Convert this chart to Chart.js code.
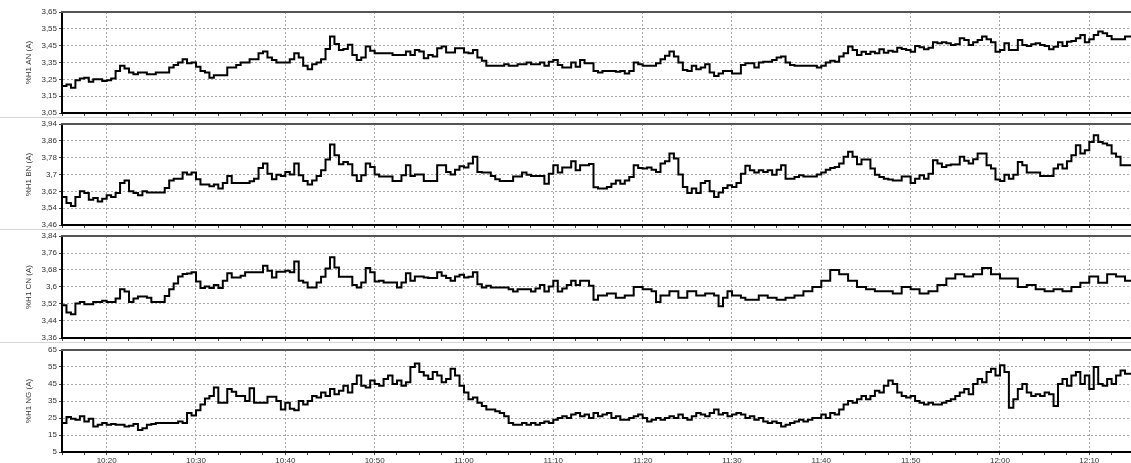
<!DOCTYPE html>
<html><head><meta charset="utf-8">
<script src="https://cdn.jsdelivr.net/npm/chart.js@4.4.0/dist/chart.umd.min.js"></script>
<style>
html,body{margin:0;padding:0;background:#fff;width:1131px;height:463px;overflow:hidden;position:relative}
.p{position:absolute;left:0;width:1131px}
canvas{display:block}
</style></head><body>
<div class="p" id="w0"><canvas id="c0"></canvas></div>
<div class="p" id="w1"><canvas id="c1"></canvas></div>
<div class="p" id="w2"><canvas id="c2"></canvas></div>
<div class="p" id="w3"><canvas id="c3"></canvas></div>
<script>
// time axis: minutes after 10:15, samples every 30 s
const startClock = 615;      // 10:15 in minutes
const sampleStep = 0.5;      // minutes
const xEnd = 119.67;
const xTickStep = 2.5;
const xLabelEvery = 10;
const xLabelOffset = 5;      // 10:20 is minute 5

const titles = ["%H1 AN (A)", "%H1 BN (A)", "%H1 CN (A)", "%H1 NG (A)"];
const ticksAN = [3.05,3.15,3.25,3.35,3.45,3.55,3.65];
const ticksBN = [3.46,3.54,3.62,3.7,3.78,3.86,3.94];
const ticksCN = [3.36,3.44,3.52,3.6,3.68,3.76,3.84];
const ticksNG = [5,15,25,35,45,55,65];

const seriesAN = [
3.21,3.22,3.20,3.245,3.255,3.26,3.235,3.25,3.25,3.24,
3.245,3.255,3.30,3.33,3.315,3.29,3.28,3.29,3.29,3.28,
3.28,3.29,3.29,3.29,3.32,3.335,3.35,3.37,3.345,3.35,
3.325,3.30,3.29,3.26,3.275,3.275,3.275,3.32,3.32,3.335,
3.35,3.35,3.37,3.37,3.405,3.415,3.38,3.365,3.35,3.35,
3.35,3.37,3.405,3.38,3.33,3.31,3.34,3.35,3.37,3.43,
3.505,3.46,3.425,3.43,3.455,3.395,3.365,3.38,3.445,3.42,
3.405,3.405,3.405,3.405,3.395,3.395,3.395,3.415,3.395,3.425,
3.415,3.375,3.395,3.385,3.435,3.445,3.41,3.41,3.435,3.435,
3.41,3.405,3.425,3.38,3.36,3.33,3.33,3.33,3.33,3.34,
3.33,3.33,3.34,3.34,3.35,3.34,3.34,3.35,3.33,3.355,
3.365,3.335,3.32,3.32,3.35,3.325,3.365,3.345,3.345,3.30,
3.29,3.30,3.30,3.30,3.295,3.30,3.285,3.30,3.35,3.34,
3.33,3.33,3.33,3.345,3.37,3.39,3.415,3.385,3.35,3.305,
3.30,3.33,3.31,3.32,3.34,3.29,3.27,3.285,3.30,3.30,
3.285,3.285,3.335,3.345,3.345,3.32,3.35,3.355,3.355,3.365,
3.38,3.385,3.35,3.335,3.33,3.33,3.33,3.33,3.33,3.32,
3.33,3.35,3.36,3.355,3.385,3.405,3.445,3.424,3.395,3.414,
3.40,3.414,3.405,3.428,3.408,3.42,3.414,3.438,3.43,3.424,
3.414,3.448,3.44,3.428,3.438,3.47,3.464,3.47,3.464,3.454,
3.458,3.494,3.484,3.454,3.47,3.484,3.504,3.488,3.47,3.414,
3.424,3.464,3.424,3.424,3.484,3.454,3.448,3.458,3.464,3.454,
3.448,3.428,3.444,3.47,3.448,3.474,3.478,3.494,3.514,3.47,
3.488,3.514,3.534,3.524,3.508,3.488,3.488,3.488,3.504];

const seriesBN = [
3.593,3.564,3.55,3.593,3.62,3.612,3.58,3.588,3.572,3.585,
3.601,3.593,3.612,3.66,3.672,3.62,3.612,3.601,3.62,3.614,
3.614,3.614,3.614,3.636,3.672,3.68,3.68,3.709,3.70,3.709,
3.677,3.652,3.652,3.644,3.652,3.633,3.66,3.693,3.66,3.66,
3.66,3.66,3.668,3.68,3.731,3.752,3.704,3.677,3.699,3.693,
3.712,3.70,3.752,3.696,3.669,3.652,3.672,3.693,3.72,3.771,
3.842,3.792,3.749,3.76,3.749,3.696,3.669,3.696,3.752,3.736,
3.70,3.691,3.691,3.691,3.669,3.669,3.696,3.744,3.693,3.70,
3.70,3.669,3.669,3.669,3.744,3.744,3.712,3.70,3.723,3.739,
3.733,3.752,3.784,3.712,3.709,3.709,3.693,3.677,3.669,3.669,
3.669,3.691,3.691,3.709,3.699,3.693,3.693,3.693,3.656,3.704,
3.744,3.709,3.733,3.733,3.763,3.72,3.744,3.744,3.75,3.64,
3.633,3.633,3.641,3.656,3.672,3.656,3.672,3.688,3.744,3.731,
3.728,3.733,3.723,3.712,3.752,3.763,3.80,3.776,3.70,3.641,
3.612,3.633,3.612,3.66,3.669,3.62,3.593,3.614,3.636,3.649,
3.641,3.66,3.704,3.741,3.72,3.709,3.72,3.712,3.72,3.699,
3.723,3.744,3.68,3.68,3.688,3.696,3.691,3.691,3.691,3.70,
3.709,3.723,3.731,3.736,3.752,3.784,3.808,3.784,3.749,3.771,
3.771,3.728,3.699,3.688,3.68,3.676,3.672,3.672,3.691,3.691,
3.66,3.68,3.696,3.68,3.704,3.768,3.752,3.736,3.744,3.747,
3.747,3.784,3.765,3.752,3.772,3.80,3.80,3.744,3.728,3.676,
3.669,3.699,3.68,3.699,3.76,3.744,3.709,3.709,3.709,3.693,
3.693,3.693,3.728,3.747,3.728,3.763,3.792,3.839,3.80,3.815,
3.855,3.887,3.855,3.847,3.839,3.80,3.784,3.744,3.744];

const seriesCN = [
3.514,3.48,3.472,3.522,3.53,3.519,3.519,3.53,3.53,3.535,
3.53,3.53,3.546,3.59,3.579,3.53,3.546,3.555,3.555,3.55,
3.53,3.53,3.53,3.558,3.59,3.617,3.65,3.661,3.664,3.669,
3.626,3.595,3.602,3.595,3.61,3.595,3.629,3.665,3.645,3.645,
3.653,3.669,3.669,3.669,3.669,3.70,3.676,3.645,3.672,3.672,
3.676,3.669,3.72,3.629,3.621,3.598,3.598,3.621,3.648,3.687,
3.74,3.692,3.648,3.648,3.648,3.61,3.598,3.621,3.689,3.669,
3.626,3.629,3.621,3.621,3.621,3.598,3.621,3.665,3.629,3.65,
3.65,3.645,3.642,3.642,3.669,3.653,3.642,3.629,3.65,3.658,
3.645,3.648,3.669,3.613,3.598,3.606,3.598,3.598,3.598,3.598,
3.59,3.579,3.59,3.59,3.59,3.579,3.593,3.61,3.579,3.602,
3.629,3.579,3.593,3.61,3.629,3.61,3.629,3.629,3.606,3.54,
3.56,3.56,3.57,3.57,3.55,3.55,3.56,3.56,3.60,3.60,
3.59,3.59,3.58,3.53,3.56,3.56,3.58,3.58,3.55,3.55,
3.58,3.58,3.56,3.56,3.57,3.57,3.56,3.51,3.55,3.58,
3.56,3.56,3.55,3.54,3.54,3.54,3.56,3.56,3.55,3.55,
3.54,3.54,3.55,3.55,3.56,3.56,3.58,3.58,3.60,3.60,
3.63,3.63,3.68,3.68,3.66,3.66,3.63,3.63,3.60,3.60,
3.59,3.59,3.58,3.58,3.58,3.58,3.57,3.57,3.60,3.60,
3.59,3.59,3.57,3.57,3.58,3.58,3.61,3.61,3.64,3.64,
3.66,3.66,3.65,3.65,3.66,3.66,3.69,3.69,3.66,3.66,
3.64,3.64,3.64,3.64,3.60,3.60,3.61,3.61,3.59,3.59,
3.58,3.58,3.59,3.59,3.58,3.58,3.60,3.60,3.62,3.62,
3.65,3.65,3.62,3.62,3.66,3.66,3.65,3.65,3.63];

const seriesNG = [
22,25.6,24.5,24,26,23,24.5,20,21,22,
21,21.5,21,21,20,20.5,21.5,18,19,21,
21.5,22,22,22,22,22,23,22,28,26.5,
29.6,33,36.5,38,43,34,34,42,40.5,38,
38,35,42.5,34,34,34,37.5,37.5,35,30,
34,30.5,29.5,35,33,35,38,37,40,38,
42,39,41,44,40,45,50,44,43,47,
45,44,48,50,45,47,44,46,55,57,
52,50,48,52,50,46,48,54,50,44,
40,36,37,34,32,30,30,29,28,26,
22,21,21,22,21,22,21,22,23,22,
24,25,26,25,27,28,26,27,25,28,
26,27,28,25,26,24,24,25,26,27,
25,23,24,25,24,25,26,25,27,25,
24,26,28,27,26,28,30,27,28,26,
27,28,27,25,26,24,25,23,22,23,
22,20,21,22,23,24,23,24,25,25,
27,25,28,27,30,33,35,34,36,38,
36,38,41,40,44,47,45,40,38,37,
38,35,34,33,34,33,33,34,35,36,
38,40,42,39,45,48,46,52,54,50,
56,52,31,36,42,45,40,38,39,38,
40,39,32,45,48,44,50,52,45,50,
42,55,45,44,48,45,50,53,51];

const panels = [
  {values: seriesAN, ticks: ticksAN, top: 12, bottom: 113, showX: false},
  {values: seriesBN, ticks: ticksBN, top: 124, bottom: 225, showX: false},
  {values: seriesCN, ticks: ticksCN, top: 236, bottom: 338, showX: false},
  {values: seriesNG, ticks: ticksNG, top: 350, bottom: 452, showX: true}
];

Chart.defaults.font.family = "'Liberation Sans', Arial, sans-serif";
Chart.defaults.font.size = 8;
Chart.defaults.color = '#333';

const xTicks = [];
for (let v = 0; v <= xEnd; v += xTickStep) xTicks.push(v);
const isMajor = v => Math.abs(((v - xLabelOffset) % xLabelEvery + xLabelEvery) % xLabelEvery) < 1e-6;
const clock = v => { const t = Math.round(startClock + v); return Math.floor(t/60) + ':' + String(t%60).padStart(2,'0'); };
const fmt = v => String(Math.round(v*100)/100).replace('.', ',');

const padTop = 8;
const gridCol = '#a8a8a8';

const framePlugin = {
  id: 'frame',
  afterDraw(chart) {
    const {ctx, chartArea: a} = chart;
    ctx.save();
    ctx.strokeStyle = '#555';
    ctx.lineWidth = 2;
    ctx.beginPath(); ctx.moveTo(a.left - 1, a.top); ctx.lineTo(a.right, a.top); ctx.stroke();
    if (!chart.options.plugins.frame.last) {
      ctx.strokeStyle = '#d6d6d6'; ctx.lineWidth = 1;
      ctx.beginPath(); ctx.moveTo(0, a.bottom + 4.5); ctx.lineTo(chart.width, a.bottom + 4.5); ctx.stroke();
    }
    ctx.restore();
  }
};

panels.forEach((p, k) => {
  const xH = p.showX ? 11 : 5;
  const h = (p.bottom - p.top) + padTop + xH;
  const wrap = document.getElementById('w' + k);
  wrap.style.top = (p.top - padTop) + 'px';
  const cv = document.getElementById('c' + k);
  cv.width = 1131; cv.height = h;
  cv.style.width = '1131px'; cv.style.height = h + 'px';
  const pts = p.values.map((v, i) => ({x: i * sampleStep, y: v}));
  pts.push({x: xEnd, y: p.values[p.values.length - 1]});
  const yMin = p.ticks[0], yMax = p.ticks[p.ticks.length - 1];
  new Chart(cv, {
    type: 'line',
    data: {datasets: [{data: pts, borderColor: '#000', borderWidth: 2, stepped: true, pointRadius: 0, fill: false}]},
    options: {
      responsive: false, animation: false,
      layout: {padding: {top: padTop, right: 0, bottom: 0, left: 0}},
      plugins: {legend: {display: false}, tooltip: {enabled: false}, frame: {last: p.showX}},
      scales: {
        x: {
          type: 'linear', min: 0, max: xEnd,
          afterBuildTicks: s => { s.ticks = xTicks.map(v => ({value: v})); },
          afterFit: s => { s.height = xH; s.paddingLeft = 0; s.paddingRight = 0; },
          grid: {
            color: c => (c.tick && isMajor(c.tick.value) && c.tick.value > 0) ? gridCol : 'rgba(0,0,0,0)',
            tickColor: '#444', tickLength: 3, lineWidth: 1, drawTicks: true
          },
          border: {display: true, color: '#000', width: 2, dash: [2, 2]},
          ticks: {
            display: p.showX, autoSkip: false, maxRotation: 0, padding: 1, color: '#333',
            font: {size: 8},
            callback: v => isMajor(v) ? clock(v) : ''
          }
        },
        y: {
          type: 'linear', min: yMin, max: yMax,
          afterBuildTicks: s => { s.ticks = p.ticks.map(v => ({value: v})); },
          afterFit: s => { s.width = 62; s.paddingTop = 0; s.paddingBottom = 0; },
          grid: {
            color: c => (c.index === 0 || c.index === p.ticks.length - 1) ? 'rgba(0,0,0,0)' : gridCol,
            tickColor: '#444', tickLength: 3, lineWidth: 1
          },
          border: {display: true, color: '#000', width: 2, dash: [2, 2]},
          ticks: {padding: 2, color: '#333', font: {size: 8}, callback: v => fmt(v)},
          title: {display: true, text: titles[k], color: '#333', font: {size: 8}, padding: {top: 24, bottom: 0}}
        }
      }
    },
    plugins: [framePlugin]
  });
});
</script>
</body></html>
